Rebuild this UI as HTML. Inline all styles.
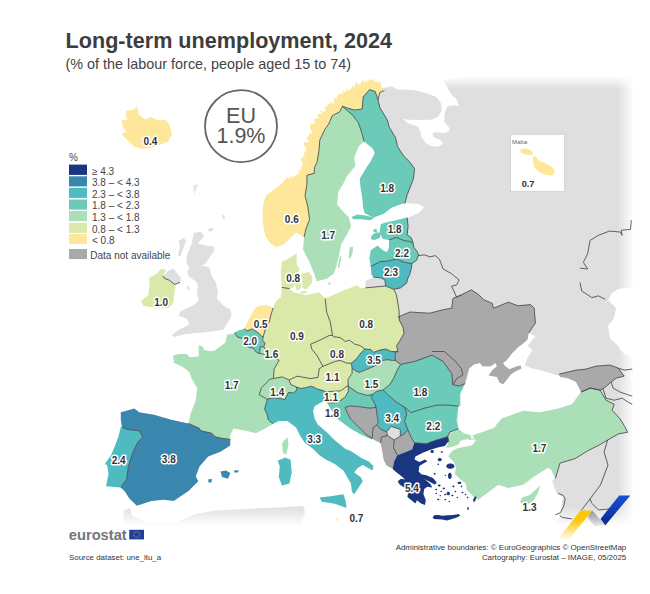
<!DOCTYPE html>
<html><head><meta charset="utf-8"><style>
html,body{margin:0;padding:0;background:#fff;width:650px;height:594px;overflow:hidden;position:relative;font-family:"Liberation Sans",sans-serif}
.t{position:absolute;white-space:nowrap}
</style></head><body>
<svg width="650" height="594" viewBox="0 0 650 594" style="position:absolute;left:0;top:0">
<defs><linearGradient id="afr" gradientUnits="userSpaceOnUse" x1="0" y1="506" x2="0" y2="526"><stop offset="0" stop-color="#dedede"/><stop offset="1" stop-color="#fff"/></linearGradient><linearGradient id="fr" x1="0" y1="0" x2="1" y2="0"><stop offset="0" stop-color="#fff" stop-opacity="0"/><stop offset="1" stop-color="#fff"/></linearGradient><linearGradient id="ft" x1="0" y1="0" x2="0" y2="1"><stop offset="0" stop-color="#fff"/><stop offset="1" stop-color="#fff" stop-opacity="0"/></linearGradient><linearGradient id="fb" x1="0" y1="0" x2="0" y2="1"><stop offset="0" stop-color="#fff" stop-opacity="0"/><stop offset="1" stop-color="#fff"/></linearGradient></defs>
<path d="M375.0,66.0 L640.0,66.0 L640.0,545.0 L550.0,545.0 L555.0,524.6 L560.0,515.4 L563.0,497.0 L557.0,494.0 L552.0,481.0 L555.0,478.0 L551.0,469.0 L548.0,468.0 L535.0,476.0 L523.0,485.0 L508.0,488.0 L498.0,485.0 L486.0,494.0 L477.0,489.0 L468.0,485.0 L464.0,478.0 L456.0,469.0 L454.0,460.0 L458.0,448.0 L455.0,443.0 L447.0,440.0 L398.0,440.0 L392.0,365.0 L392.0,290.0 L395.0,225.0 L375.0,222.0Z" fill="#dfdfdf"/>
<path d="M193.7,232.9 L201.1,231.8 L204.2,236.1 L197.9,243.4 L205.3,245.5 L213.7,246.6 L214.7,249.7 L210.5,256.1 L206.3,262.4 L202.1,265.5 L209.5,267.6 L211.6,276.1 L215.8,282.4 L217.9,290.8 L216.8,298.2 L223.2,305.5 L230.5,309.7 L231.6,316.1 L226.3,324.5 L223.2,329.7 L210.5,331.8 L197.9,332.9 L185.3,333.9 L174.7,337.1 L171.6,335.0 L178.9,329.7 L189.5,324.5 L186.3,318.2 L178.9,316.1 L180.0,311.8 L188.4,307.6 L194.7,304.5 L198.9,300.3 L196.8,293.9 L197.9,286.6 L196.8,282.4 L191.6,278.2 L188.4,276.1 L187.4,271.8 L189.5,267.6 L186.3,262.4 L187.4,253.9 L191.6,244.5Z" fill="#dfdfdf"/>
<path d="M178.5,241.3 L183.2,238.2 L186.3,240.3 L183.2,248.7 L180.0,257.1 L177.9,255.0 L180.0,246.6Z" fill="#dfdfdf"/>
<path d="M222.1,215.4 L224.2,215.0 L225.3,218.8 L223.2,219.6Z" fill="#dfdfdf"/>
<path d="M193.0,185.3 L198.3,184.2 L196.5,188.3 L194.7,194.8 L193.3,189.5Z" fill="#e6e6e6"/>
<path d="M208.0,228.9 L212.6,228.1 L213.1,231.0 L208.8,231.4Z" fill="#dfdfdf"/>
<path d="M186.9,286.6 L189.1,285.7 L189.9,289.1 L187.8,289.9Z" fill="#dfdfdf"/>
<path d="M163.2,276.1 L168.4,270.8 L173.7,268.7 L176.8,272.9 L181.1,278.2 L180.0,282.4 L174.7,284.5 L169.5,280.3 L164.2,278.2Z" fill="#dfdfdf"/>
<path d="M123.7,510.5 L130,508 L132,516 L150,523 L175,523 L195,514 L216,510.5 L238,509.4 L259,508.3 L280,507.5 L295,506.5 L303,506 L305,512 L300,530 L123,530Z" fill="url(#afr)"/>
<path d="M370.0,66.0 L375.0,89.0 L384.4,87.8 L391.9,85.9 L397.4,89.6 L400.0,89.5 L413.5,89.9 L426.9,93.2 L436.4,96.9 L441.1,103.7 L441.8,110.4 L437.7,117.1 L431.0,119.8 L420.2,120.1 L408.1,119.8 L402.7,118.8 L408.1,123.2 L417.5,126.6 L420.2,130.6 L421.5,137.3 L425.6,142.7 L429.6,145.4 L437.7,146.8 L443.1,144.1 L440.4,140.0 L433.7,137.3 L432.3,133.3 L437.7,132.0 L444.4,133.3 L449.8,130.6 L448.5,126.6 L444.4,122.5 L444.4,114.4 L447.1,106.4 L453.9,105.3 L459.3,106.4 L456.6,99.6 L451.2,94.2 L447.1,86.8 L443.1,80.8 L444.4,79.4 L453.9,78.1 L480.0,75.4 L480.0,66.0Z" fill="#fff"/>
<path d="M375.0,203.0 L404.0,203.0 L418.0,204.0 L424.0,207.0 L420.0,212.0 L410.0,217.0 L400.0,220.0 L375.0,224.0Z" fill="#fff"/>
<path d="M465.0,383.0 L469.0,368.5 L473.8,364.6 L480.0,363.1 L482.3,366.2 L490.8,366.2 L495.4,363.1 L503.1,363.1 L506.2,360.8 L512.3,353.1 L518.5,346.9 L524.6,342.3 L527.7,339.2 L528.5,333.1 L535.4,336.2 L527.7,345.4 L532.3,350.0 L527.7,357.7 L524.6,365.4 L532.3,368.5 L540.0,370.0 L560.0,376.2 L576.0,382.0 L581.0,392.0 L572.0,404.0 L560.0,408.0 L540.0,414.0 L523.0,413.0 L501.0,421.0 L493.0,430.0 L472.0,438.0 L458.0,432.0 L458.0,406.0 L460.0,393.0Z" fill="#fff"/>
<path d="M448.1,451.6 L454.8,447.6 L458.8,441.5 L466.9,439.5 L475.7,440.2 L472.3,444.9 L465.6,446.6 L457.5,448.3 L452.1,450.7Z" fill="#fff"/>
<path d="M612.0,293.0 L618.0,289.0 L640.0,286.0 L640.0,360.0 L624.0,354.0 L618.0,346.0 L610.0,338.0 L608.0,326.0 L614.0,318.0 L616.0,308.0 L608.0,300.0Z" fill="#fff"/>
<path d="M455.2,86.2 L459.3,80.8 L467.3,79.4 L468.0,88.9 L463.3,93.6 L456.6,90.2Z" fill="#dfdfdf"/>
<rect x="370" y="60" width="280" height="16" fill="#fff"/><rect x="370" y="76" width="280" height="13" fill="url(#ft)"/>
<rect x="618" y="60" width="16" height="490" fill="url(#fr)"/><rect x="634" y="60" width="16" height="490" fill="#fff"/>
<rect x="540" y="507" width="110" height="19" fill="url(#fb)"/><rect x="90" y="526" width="560" height="20" fill="#fff"/>
<path d="M384.4,90.6 L381.7,87.8 L380.7,82.2 L374.7,82.0 L373.3,79.3 L371.2,80.0 L369.5,79.0 L366.9,82.4 L365.9,77.6 L365.6,82.5 L362.7,80.4 L361.2,81.9 L360.5,84.4 L358.4,83.9 L355.4,81.6 L355.1,84.7 L354.6,87.4 L352.0,85.3 L352.3,88.8 L349.6,88.2 L349.3,91.0 L345.2,88.5 L346.8,92.8 L342.0,90.5 L343.1,94.1 L340.2,93.7 L338.3,94.4 L337.3,96.0 L337.2,98.8 L334.5,98.1 L334.0,100.3 L334.5,103.9 L330.5,101.5 L330.5,104.5 L327.9,103.9 L327.5,105.8 L325.9,106.6 L324.6,107.8 L325.7,111.4 L323.4,111.6 L319.7,110.3 L322.4,114.6 L318.8,114.1 L316.9,114.9 L319.2,118.8 L315.6,118.3 L314.3,119.6 L314.2,121.7 L315.7,123.2 L311.1,123.5 L310.2,125.0 L309.9,126.7 L310.2,128.7 L311.5,130.9 L312.4,133.0 L308.8,133.6 L308.8,135.4 L307.6,136.9 L306.7,138.4 L309.4,141.3 L307.0,142.1 L303.9,142.6 L303.5,144.3 L304.8,146.6 L306.3,148.9 L305.9,149.5 L305.7,151.2 L303.7,152.6 L305.1,154.5 L303.0,155.9 L302.7,157.6 L300.4,158.9 L301.6,160.8 L302.4,163.2 L303.1,165.4 L300.9,166.8 L301.6,169.8 L297.7,169.7 L300.1,172.8 L297.7,173.4 L297.0,174.9 L294.1,175.8 L292.9,177.9 L290.7,176.3 L289.7,178.8 L287.4,177.0 L280.9,184.4 L273.5,190.0 L266.1,195.6 L263.3,203.0 L262.4,214.1 L263.3,225.2 L265.2,236.3 L270.7,243.7 L276.3,247.4 L284.6,243.7 L292.0,236.3 L296.7,232.6 L302.2,236.3 L304.1,237.2 L305.9,228.9 L309.6,219.6 L307.8,206.7 L305.0,195.6 L306.9,184.4 L306.9,175.2 L314.3,173.3 L314.3,167.8 L317.0,162.2 L318.9,151.1 L319.8,140.0 L324.9,129.2 L328.6,124.2 L332.3,115.6 L339.7,111.9 L342.5,106.3 L347.4,108.1 L354.8,110.0 L362.2,109.0 L363.1,97.0 L369.6,89.6 L375.2,91.5 L378.0,99.8 L379.8,92.4 L384.4,90.6Z" fill="#fee79b"/>
<path d="M304.1,237.2 L305.9,228.9 L309.6,219.6 L307.8,206.7 L305.0,195.6 L306.9,184.4 L306.9,175.2 L314.3,173.3 L314.3,167.8 L317.0,162.2 L318.9,151.1 L319.8,140.0 L324.9,129.2 L328.6,124.2 L332.3,115.6 L339.7,111.9 L342.5,106.3 L353.0,115.6 L358.5,123.0 L362.2,134.1 L364.1,141.5 L358.6,146.5 L354.3,157.2 L355.4,165.8 L346.8,176.6 L342.5,185.2 L338.2,191.7 L337.1,204.6 L342.5,211.1 L348.9,217.5 L351.1,226.2 L346.8,234.8 L341.2,244.3 L338.8,256.6 L336.3,266.5 L333.8,273.8 L326.5,278.8 L316.6,281.2 L314.2,273.8 L309.2,261.5 L303.0,249.2 L304.1,237.2Z" fill="#aadfb7"/>
<path d="M349.8,247.3 L353.0,246.8 L352.6,252.9 L350.1,259.1 L348.6,257.1Z" fill="#aadfb7"/>
<path d="M340.0,256.1 L341.5,256.8 L339.2,268.2 L337.7,267.4Z" fill="#aadfb7"/>
<path d="M342.5,106.3 L353.0,115.6 L358.5,123.0 L362.2,134.1 L364.1,141.5 L372.6,148.6 L374.8,152.9 L370.5,161.5 L366.2,168.0 L359.7,178.8 L360.8,189.2 L362.3,198.5 L363.1,207.7 L364.6,213.1 L373.1,217.7 L383.8,213.8 L391.5,207.7 L402.3,203.8 L404.9,203.5 L407.1,195.0 L413.5,178.6 L414.5,168.5 L409.2,161.5 L403.9,156.3 L397.4,146.4 L395.6,137.8 L389.0,126.7 L387.4,120.0 L380.0,108.0 L378.0,99.8 L375.2,91.5 L369.6,89.6 L363.1,97.0 L362.2,109.0 L354.8,110.0 L347.4,108.1 L342.5,106.3Z" fill="#6bcab8"/>
<path d="M407.1,217.5 L408.1,226.2 L407.1,234.8 L411.4,238.0 L413.2,243.5 L409.8,241.4 L404.4,240.8 L396.4,237.4 L392.3,238.8 L389.0,240.1 L383.0,239.0 L379.5,233.0 L380.8,224.0 L389.8,221.8 L407.1,217.5Z" fill="#6bcab8"/>
<path d="M371.5,235.4 L376.2,232.3 L380.8,233.1 L380.0,237.7 L374.6,240.0 L370.8,239.2Z" fill="#6bcab8"/>
<path d="M373.1,230.0 L376.2,228.5 L377.4,231.5 L373.8,232.6Z" fill="#6bcab8"/>
<path d="M351.5,216.9 L357.7,214.6 L365.4,215.4 L374.6,217.7 L370.0,220.3 L360.8,219.2 L353.1,219.2Z" fill="#6bcab8"/>
<path d="M413.2,243.5 L413.9,247.5 L417.2,251.5 L418.6,254.9 L416.6,260.3 L411.9,263.7 L404.4,262.3 L396.4,259.0 L388.3,261.0 L380.2,261.6 L370.8,266.4 L369.4,258.3 L370.8,250.2 L377.5,245.5 L382.9,250.2 L386.9,252.2 L389.0,247.5 L389.0,240.1 L392.3,238.8 L396.4,237.4 L404.4,240.8 L409.8,241.4 L413.2,243.5Z" fill="#6bcab8"/>
<path d="M370.8,266.4 L380.2,261.6 L388.3,261.0 L396.4,259.0 L404.4,262.3 L411.9,263.7 L411.2,269.1 L409.8,274.4 L407.8,278.5 L406.5,283.2 L400.4,287.9 L393.7,289.3 L385.6,286.0 L384.9,279.8 L380.2,277.8 L373.5,277.1 L371.4,274.4 L370.8,266.4Z" fill="#4fbbc1"/>
<path d="M365.4,281.2 L373.5,277.1 L380.2,277.8 L384.9,279.8 L385.6,286.0 L365.4,287.9Z" fill="#dfdfdf"/>
<path d="M325.2,298.5 L336.3,293.5 L351.1,287.4 L357.2,284.9 L360.0,288.0 L365.4,287.9 L385.6,286.0 L393.7,289.3 L396.4,294.6 L399.0,310.0 L399.3,320.0 L403.3,328.1 L404.0,333.5 L399.3,341.5 L396.6,345.6 L397.9,351.6 L391.2,351.6 L385.8,349.0 L379.1,350.3 L373.7,352.3 L371.0,349.6 L364.9,349.0 L360.2,345.6 L354.8,344.2 L349.4,340.2 L345.4,341.5 L340.0,337.5 L334.0,336.8 L332.5,335.5 L330.3,322.0 L326.6,312.2 L325.2,298.5Z" fill="#dae8aa"/>
<path d="M332.5,335.5 L329.1,335.5 L319.2,340.5 L310.6,344.2 L311.8,349.1 L316.8,355.2 L322.9,366.3 L335.2,361.4 L340.0,360.4 L346.7,363.1 L351.4,363.1 L356.2,359.1 L361.5,352.3 L364.9,349.0 L360.2,345.6 L354.8,344.2 L349.4,340.2 L345.4,341.5 L340.0,337.5 L334.0,336.8 L332.5,335.5Z" fill="#dae8aa"/>
<path d="M351.4,363.1 L356.2,359.1 L361.5,352.3 L364.9,349.0 L371.0,349.6 L373.7,352.3 L379.1,350.3 L385.8,349.0 L391.2,351.6 L397.9,351.6 L395.2,352.3 L395.2,357.7 L395.2,360.4 L392.5,360.4 L387.1,359.7 L383.1,360.4 L377.7,364.4 L372.3,367.1 L365.6,369.8 L358.9,372.5 L352.1,368.5 L351.4,363.1Z" fill="#4fbbc1"/>
<path d="M352.1,368.5 L358.9,372.5 L365.6,369.8 L372.3,367.1 L377.7,364.4 L383.1,360.4 L387.1,359.7 L392.5,360.4 L395.2,360.4 L400.6,364.4 L396.6,371.2 L393.9,377.9 L389.8,384.6 L383.1,390.0 L376.4,391.4 L372.3,394.7 L366.9,395.4 L357.5,392.7 L348.1,386.0 L348.1,379.3 L352.1,373.2 L352.1,368.5Z" fill="#aadfb7"/>
<path d="M289.2,380.0 L297.1,376.2 L310.6,378.6 L318.0,377.4 L319.2,368.8 L322.9,366.3 L335.2,361.4 L340.0,360.4 L346.7,363.1 L351.4,363.1 L352.1,368.5 L352.1,373.2 L348.1,379.3 L348.1,386.0 L346.9,386.2 L340.8,390.8 L330.0,391.5 L325.4,391.5 L323.8,390.8 L317.7,389.2 L311.5,386.2 L305.4,387.7 L300.8,388.5 L296.2,386.9 L290.8,384.6 L289.2,380.0Z" fill="#dae8aa"/>
<path d="M325.4,391.5 L330.0,391.5 L340.8,390.8 L346.9,386.2 L348.1,386.0 L326.9,402.3 L331.5,403.1 L339.2,401.5 L345.4,396.9 L348.5,390.8 L348.1,386.0 L326.9,402.3 L325.4,398.5 L325.4,391.5Z" fill="#dae8aa"/>
<path d="M273.5,378.5 L270.0,379.2 L261.5,387.7 L259.2,394.6 L266.9,399.2 L273.5,378.5 L282.3,376.9 L289.2,380.0 L290.8,384.6 L296.2,386.9 L296.9,390.0 L293.1,393.1 L288.5,392.3 L284.6,400.0 L280.8,398.5 L273.1,397.7 L266.9,399.2Z" fill="#aadfb7"/>
<path d="M266.9,399.2 L266.9,400.8 L264.6,409.2 L266.9,413.8 L268.5,420.0 L273.1,423.8 L278.8,420.9 L287.4,420.9 L296.0,427.4 L300.3,436.0 L304.6,442.5 L313.2,448.9 L319.7,455.4 L326.2,459.7 L334.8,464.0 L343.4,470.5 L350.9,483.4 L352.0,492.0 L354.2,494.2 L358.5,487.7 L362.8,481.2 L360.6,476.9 L354.2,472.6 L357.4,468.3 L362.8,465.1 L372.5,470.5 L373.5,466.2 L369.2,461.8 L360.6,457.5 L350.9,451.1 L345.5,448.9 L334.8,440.3 L326.2,431.7 L317.7,424.6 L314.6,418.5 L313.1,410.8 L314.6,406.2 L325.4,400.0 L326.9,402.3 L325.4,398.5 L325.4,391.5 L323.8,390.8 L317.7,389.2 L311.5,386.2 L305.4,387.7 L300.8,388.5 L296.2,386.9 L296.9,390.0 L293.1,393.1 L288.5,392.3 L284.6,400.0 L280.8,398.5 L273.1,397.7 L266.9,399.2Z" fill="#4fbbc1"/>
<path d="M319.7,497.4 L330.5,496.3 L343.4,494.2 L345.5,500.6 L346.6,507.9 L334.8,503.8 L321.8,501.7Z" fill="#4fbbc1"/>
<path d="M277.7,460.8 L285.2,457.5 L290.6,459.7 L291.7,472.6 L289.5,483.4 L282.0,485.5 L278.8,476.9 L279.8,466.2Z" fill="#4fbbc1"/>
<path d="M283.1,441.4 L287.4,437.1 L288.5,444.6 L286.3,454.3 L283.1,453.2 L282.0,444.6Z" fill="#aadfb7"/>
<path d="M234.9,332.6 L235.5,334.5 L237.4,336.9 L241.1,338.2 L246.0,341.8 L247.8,346.8 L252.8,348.0 L256.5,352.3 L259.5,353.5 L265.1,354.2 L270.6,356.6 L279.2,360.3 L274.0,369.2 L273.5,378.5 L270.0,379.2 L261.5,387.7 L259.2,394.6 L266.9,399.2 L266.9,400.8 L264.6,409.2 L266.9,413.8 L268.5,420.0 L273.1,423.8 L265.7,428.3 L255.8,433.2 L246.0,430.8 L236.0,429.0 L233.7,428.3 L230.0,435.7 L230.3,439.4 L221.4,438.2 L215.5,436.9 L211.5,433.2 L200.8,430.8 L199.2,428.3 L188.5,423.4 L190.6,413.5 L195.5,401.2 L197.3,388.3 L191.9,378.9 L189.2,372.1 L182.5,366.8 L173.8,362.7 L173.1,355.3 L179.8,354.0 L186.5,354.0 L189.9,357.3 L198.7,356.6 L198.7,345.2 L202.7,346.5 L204.1,349.9 L210.8,351.3 L214.8,350.6 L217.5,348.6 L225.6,342.5 L227.0,334.4 L233.7,333.8 L234.9,332.6Z" fill="#aadfb7"/>
<path d="M234.9,332.6 L238.6,330.2 L242.3,329.5 L244.2,328.8 L247.2,330.8 L252.2,328.9 L258.9,333.2 L260.8,335.7 L263.2,336.9 L262.6,340.6 L265.1,343.1 L263.8,346.8 L260.2,346.8 L259.5,353.5 L256.5,352.3 L252.8,348.0 L247.8,346.8 L246.0,341.8 L241.1,338.2 L237.4,336.9 L235.5,334.5 L234.9,332.6Z" fill="#6bcab8"/>
<path d="M260.2,346.8 L263.8,346.8 L265.7,349.8 L265.1,354.2 L259.5,353.5Z" fill="#aadfb7"/>
<path d="M244.2,328.8 L248.5,319.7 L252.8,312.3 L255.8,307.4 L259.5,305.5 L266.9,304.9 L273.1,308.0 L270.6,316.0 L269.4,322.2 L266.9,324.6 L264.5,332.0 L263.2,336.9 L260.8,335.7 L258.9,333.2 L252.2,328.9 L247.2,330.8 L244.2,328.8Z" fill="#fee79b"/>
<path d="M281.7,287.4 L289.5,288.6 L293.7,292.4 L299.1,293.5 L305.5,295.1 L313.1,293.5 L319.5,292.4 L325.2,298.5 L326.6,312.2 L330.3,322.0 L332.5,335.5 L329.1,335.5 L319.2,340.5 L310.6,344.2 L311.8,349.1 L316.8,355.2 L322.9,366.3 L319.2,368.8 L318.0,377.4 L310.6,378.6 L297.1,376.2 L289.2,380.0 L282.3,376.9 L273.5,378.5 L274.0,369.2 L279.2,360.3 L270.6,356.6 L265.1,354.2 L265.7,349.8 L263.8,346.8 L265.1,343.1 L262.6,340.6 L263.2,336.9 L264.5,332.0 L266.9,324.6 L269.4,322.2 L270.6,316.0 L273.1,308.0 L276.0,301.0 L281.0,297.0Z" fill="#dae8aa"/>
<path d="M281.8,287.0 L281.3,280.5 L280.8,271.9 L281.8,261.7 L287.2,259.5 L296.9,253.1 L296.4,263.8 L299.6,269.2 L297.5,273.0 L295.8,277.3 L296.9,282.2 L293.7,287.0 L289.4,288.6 L286.2,288.1Z" fill="#dae8aa"/>
<path d="M295.3,283.2 L299.6,281.6 L301.8,285.9 L299.1,290.2 L295.8,289.2Z" fill="#dae8aa"/>
<path d="M301.2,274.1 L308.8,271.9 L312.5,277.3 L311.5,283.8 L306.6,289.2 L302.3,288.1 L302.3,279.5Z" fill="#dae8aa"/>
<path d="M300.2,291.3 L305.5,290.8 L307.2,292.9 L301.2,293.5Z" fill="#dae8aa"/>
<path d="M328.2,282.5 L330.3,282.2 L330.5,284.6 L328.7,285.1Z" fill="#aadfb7"/>
<path d="M120.8,419.7 L120.8,412.3 L134.3,408.6 L139.2,412.3 L154.0,414.8 L171.2,419.7 L188.5,423.4 L199.2,428.3 L200.8,430.8 L211.5,433.2 L215.5,436.9 L221.4,438.2 L230.3,439.4 L230.3,445.5 L220.5,451.7 L208.2,456.6 L199.5,466.5 L195.8,476.3 L198.3,481.2 L188.5,491.1 L173.7,500.9 L163.8,499.7 L151.5,500.9 L136.8,505.8 L129.4,498.5 L124.5,491.1 L120.8,487.4 L126.9,478.8 L128.2,466.5 L133.1,451.7 L138.0,441.8 L142.9,436.9 L139.2,430.8 L126.9,429.5 L122.0,427.1Z" fill="#3986ae"/>
<path d="M220.5,471.4 L226.0,470.5 L230.3,473.0 L228.0,478.8 L222.0,477.0Z" fill="#3986ae"/>
<path d="M234.0,470.2 L238.9,470.5 L238.0,472.6 L234.5,472.6Z" fill="#3986ae"/>
<path d="M208.2,479.5 L211.8,478.8 L211.5,482.5 L208.5,482.5Z" fill="#3986ae"/>
<path d="M122.0,427.1 L126.9,429.5 L139.2,430.8 L142.9,436.9 L138.0,441.8 L133.1,451.7 L128.2,466.5 L126.9,478.8 L120.8,487.4 L106.0,486.2 L108.5,473.8 L107.2,465.2 L104.8,464.0 L110.9,455.4 L114.6,446.8 L118.3,436.9 L120.8,427.1Z" fill="#4fbbc1"/>
<path d="M160.6,268.9 L166.0,269.5 L163.2,276.1 L164.2,278.2 L169.5,280.3 L174.7,284.5 L175.6,286.0 L174.2,293.5 L172.9,303.4 L168.0,308.3 L156.9,308.3 L143.4,305.8 L140.9,300.9 L148.3,294.8 L149.5,286.2 L149.5,277.5 L156.9,273.8Z" fill="#dae8aa"/>
<path d="M126.5,110.8 L133.8,109.5 L137.5,106.6 L138.8,114.5 L144.9,119.4 L151.1,116.9 L158.5,120.6 L165.8,119.4 L169.5,125.5 L172.0,134.2 L168.3,141.5 L158.5,145.2 L151.1,147.7 L143.7,148.9 L133.8,146.5 L127.7,140.3 L121.5,134.2 L126.5,131.7 L122.8,126.8 L121.5,120.6 L127.7,119.4 L125.2,114.5Z" fill="#fee79b"/>
<path d="M348.1,386.0 L357.5,392.7 L366.9,395.4 L372.3,394.7 L371.2,397.5 L374.5,402.9 L376.1,407.4 L370.0,408.2 L359.4,406.7 L350.3,405.9 L345.0,407.4 L347.3,412.7 L350.3,418.8 L357.9,426.4 L365.5,433.9 L372.3,438.5 L371.5,439.5 L360.9,434.5 L350.3,428.5 L338.2,419.5 L331.0,410.0 L326.9,402.3 L331.5,403.1 L339.2,401.5 L345.4,396.9 L348.5,390.8 L348.1,386.0Z" fill="#6bcab8"/>
<path d="M372.3,394.7 L376.4,391.4 L383.1,390.0 L387.4,394.3 L396.0,401.8 L404.6,407.2 L406.8,413.7 L404.6,421.2 L407.8,429.8 L404.0,434.0 L400.3,436.2 L400.3,429.4 L391.2,426.4 L386.7,431.7 L380.6,429.4 L376.8,424.8 L378.3,422.6 L376.8,414.2 L376.1,407.4 L374.5,402.9 L371.2,397.5 L372.3,394.7Z" fill="#4fbbc1"/>
<path d="M372.3,438.5 L365.5,433.9 L357.9,426.4 L350.3,418.8 L347.3,412.7 L345.0,407.4 L350.3,405.9 L359.4,406.7 L370.0,408.2 L376.1,407.4 L376.8,414.2 L378.3,422.6 L376.8,424.8 L373.0,427.9 L372.3,438.5Z" fill="#a9a9a9"/>
<path d="M400.6,364.4 L414.8,361.4 L432.0,355.2 L434.5,356.5 L443.1,361.4 L451.7,373.7 L452.9,384.8 L459.1,386.0 L465.2,383.5 L460.3,393.4 L460.3,405.7 L458.5,406.2 L447.7,405.1 L436.9,405.1 L424.0,408.3 L411.1,412.6 L404.6,407.2 L396.0,401.8 L387.4,394.3 L383.1,390.0 L389.8,384.6 L393.9,377.9 L396.6,371.2 L400.6,364.4Z" fill="#6bcab8"/>
<path d="M404.6,407.2 L411.1,412.6 L424.0,408.3 L436.9,405.1 L447.7,405.1 L458.5,406.2 L457.4,413.7 L456.3,420.2 L458.5,428.8 L449.8,432.0 L447.7,436.3 L445.5,437.4 L434.8,440.6 L426.2,443.8 L414.3,442.8 L411.1,437.4 L407.8,429.8 L404.6,421.2 L406.8,413.7 L404.6,407.2Z" fill="#6bcab8"/>
<path d="M394.2,440.0 L400.3,436.2 L404.0,434.0 L407.8,429.8 L411.1,437.4 L414.3,442.8 L412.2,449.2 L404.6,452.5 L397.3,455.2 L393.5,447.6Z" fill="#a9a9a9"/>
<path d="M386.7,431.7 L391.2,426.4 L400.3,429.4 L400.3,436.2 L394.2,440.0 L387.4,435.5Z" fill="#dfdfdf"/>
<path d="M372.3,438.5 L373.0,427.9 L376.8,424.8 L380.6,429.4 L386.7,431.7 L387.4,435.5 L381.4,437.0 L380.6,443.0 L376.0,441.0Z" fill="#a9a9a9"/>
<path d="M380.6,443.0 L381.4,437.0 L387.4,435.5 L394.2,440.0 L393.5,447.6 L397.3,455.2 L394.2,461.2 L392.7,468.8 L386.7,465.8 L383.6,459.7 L382.1,450.6Z" fill="#a9a9a9"/>
<path d="M398.0,317.0 L409.8,312.0 L429.5,313.2 L444.3,309.5 L451.7,308.3 L452.9,298.5 L461.5,294.8 L471.4,289.8 L478.8,294.8 L483.7,299.7 L492.3,303.4 L493.5,308.3 L508.3,302.2 L518.2,305.8 L530.5,304.6 L534.2,308.3 L535.4,323.1 L530.0,331.0 L528.5,333.1 L527.7,339.2 L524.6,342.3 L518.5,346.9 L512.3,353.1 L506.2,360.8 L503.1,363.1 L495.4,363.1 L490.8,366.2 L482.3,366.2 L480.0,363.1 L473.8,364.6 L469.2,368.5 L465.2,383.5 L459.1,386.0 L452.9,384.8 L456.6,378.6 L462.8,374.9 L461.5,368.8 L455.4,361.4 L444.3,351.5 L432.0,351.5 L432.0,355.2 L414.8,361.4 L400.6,364.4 L395.2,360.4 L395.2,352.3 L397.9,351.6 L396.6,345.6 L399.3,341.5 L404.0,333.5 L403.3,328.1 L399.3,320.0Z" fill="#a9a9a9"/>
<path d="M488.5,375.4 L492.3,370.0 L496.9,366.2 L495.4,363.1 L503.1,363.1 L504.6,365.4 L509.2,369.2 L516.9,366.2 L520.8,365.4 L521.5,368.5 L515.4,371.5 L510.8,374.6 L503.1,384.6 L499.2,382.3 L496.9,376.9Z" fill="#a9a9a9"/>
<path d="M432.0,351.5 L444.3,351.5 L455.4,361.4 L461.5,368.8 L462.8,374.9 L456.6,378.6 L452.9,384.8 L451.7,373.7 L443.1,361.4 L434.5,356.5 L432.0,355.2Z" fill="#a9a9a9"/>
<path d="M559.1,374.1 L576.1,370.1 L586.1,369.1 L596.1,366.1 L610.1,365.1 L618.2,368.1 L624.2,376.1 L616.2,378.1 L611.1,382.1 L604.1,388.1 L600.1,390.1 L590.1,388.1 L581.1,392.1 L576.1,382.1 L568.1,378.1 L560.1,377.1Z" fill="#a9a9a9"/>
<path d="M447.7,436.3 L458.4,428.7 L464.2,433.5 L470.7,435.1 L471.2,440.2 L466.9,438.8 L460.2,440.2 L458.8,444.2 L452.1,446.9 L446.1,448.0 L448.7,441.7Z" fill="#aadfb7"/>
<path d="M472.3,435.5 L493.8,428.1 L501.5,418.5 L523.1,410.8 L540.0,412.2 L560.1,408.2 L572.1,404.2 L581.1,392.1 L590.1,388.1 L600.1,390.1 L606.1,400.2 L614.2,404.2 L612.1,410.2 L620.2,419.0 L624.6,426.2 L627.7,432.3 L618.5,433.8 L607.7,440.0 L600.0,444.6 L587.7,450.8 L575.4,458.5 L560.0,463.1 L555.4,478.5 L550.8,469.2 L547.7,467.7 L535.4,475.4 L523.1,484.6 L507.7,487.7 L498.5,484.6 L486.2,493.8 L477.7,499.9 L472.3,495.3 L466.9,490.0 L465.6,483.2 L460.2,479.2 L454.8,473.8 L456.1,467.1 L453.5,461.7 L448.1,456.3 L452.1,450.9 L457.5,448.3 L465.6,446.9 L472.3,445.6 L476.3,440.2Z" fill="#aadfb7"/>
<path d="M520.0,501.8 L522.5,497.2 L529.8,495.1 L540.3,485.5 L537.8,493.2 L533.8,500.0 L528.6,503.7 L521.8,504.0Z" fill="#aadfb7"/>
<path d="M392.7,468.8 L394.2,461.2 L397.3,455.2 L404.6,452.5 L412.2,449.2 L414.3,442.8 L426.2,443.8 L434.8,440.6 L445.5,437.4 L447.7,436.3 L448.8,441.7 L447.3,442.8 L444.9,446.0 L437.7,447.6 L429.8,450.0 L423.4,452.4 L415.4,456.4 L414.6,459.6 L419.4,462.0 L425.0,459.6 L427.4,461.2 L423.4,463.6 L419.4,466.0 L418.6,471.6 L421.8,474.8 L426.6,475.6 L433.0,478.0 L437.0,482.7 L432.2,481.2 L427.4,479.6 L424.2,478.8 L430.6,484.3 L432.2,487.5 L427.4,486.7 L424.2,489.1 L423.4,493.9 L425.8,500.3 L425.0,505.1 L421.0,503.5 L417.0,500.3 L415.4,503.5 L411.4,500.3 L407.4,497.1 L408.2,492.3 L404.2,487.5 L399.4,484.3 L397.8,481.2 L401.0,478.8 L405.0,479.6 L401.8,476.4 L395.4,471.6 L392.2,468.4Z" fill="#1b3681"/>
<path d="M432.5,517.2 L434.8,514.9 L438.5,514.9 L442.2,515.8 L447.7,515.3 L453.2,514.9 L458.8,513.9 L460.2,515.8 L456.9,517.6 L450.5,519.5 L446.8,520.4 L442.2,519.5 L433.9,519.0Z" fill="#1b3681"/>
<path d="M473.1,499.6 L474.9,496.4 L476.5,496.8 L475.4,500.5 L473.7,502.4Z" fill="#1b3681"/>
<path d="M467.1,507.5 L468.5,507.0 L468.8,509.8 L467.3,509.8Z" fill="#1b3681"/>
<path d="M433.8,451.6 L433.5,452.5 L432.7,453.1 L431.7,453.1 L430.8,452.5 L430.5,451.6 L430.8,450.6 L431.7,450.0 L432.7,450.0 L433.5,450.6Z" fill="#1b3681"/>
<path d="M442.9,452.1 L442.7,452.6 L442.1,452.8 L441.4,452.8 L440.9,452.6 L440.7,452.1 L440.9,451.6 L441.4,451.3 L442.1,451.3 L442.7,451.6Z" fill="#1b3681"/>
<path d="M441.8,459.6 L441.4,460.6 L440.4,461.2 L439.1,461.2 L438.1,460.6 L437.7,459.6 L438.1,458.7 L439.1,458.1 L440.4,458.1 L441.4,458.7Z" fill="#1b3681"/>
<path d="M454.4,466.2 L453.7,467.8 L451.6,468.8 L449.1,468.8 L447.0,467.8 L446.3,466.2 L447.0,464.6 L449.1,463.6 L451.6,463.6 L453.7,464.6Z" fill="#1b3681"/>
<path d="M451.8,475.8 L451.4,477.7 L450.4,478.9 L449.3,478.9 L448.3,477.7 L447.9,475.8 L448.3,473.9 L449.3,472.7 L450.4,472.7 L451.4,473.9Z" fill="#1b3681"/>
<path d="M461.5,482.9 L461.1,483.6 L460.1,484.0 L458.8,484.0 L457.8,483.6 L457.4,482.9 L457.8,482.2 L458.8,481.7 L460.1,481.7 L461.1,482.2Z" fill="#1b3681"/>
<path d="M440.6,485.4 L440.3,486.0 L439.7,486.4 L438.8,486.4 L438.1,486.0 L437.9,485.4 L438.1,484.8 L438.8,484.4 L439.7,484.4 L440.3,484.8Z" fill="#1b3681"/>
<path d="M445.0,488.4 L444.8,489.0 L444.2,489.3 L443.4,489.3 L442.8,489.0 L442.6,488.4 L442.8,487.9 L443.4,487.5 L444.2,487.5 L444.8,487.9Z" fill="#1b3681"/>
<path d="M450.0,493.5 L449.7,494.6 L448.8,495.3 L447.8,495.3 L447.0,494.6 L446.7,493.5 L447.0,492.4 L447.8,491.7 L448.8,491.7 L449.7,492.4Z" fill="#1b3681"/>
<path d="M446.4,494.5 L446.2,495.0 L445.6,495.3 L445.0,495.3 L444.4,495.0 L444.2,494.5 L444.4,494.0 L445.0,493.7 L445.6,493.7 L446.2,494.0Z" fill="#1b3681"/>
<path d="M437.2,489.4 L437.0,489.9 L436.5,490.2 L435.9,490.2 L435.4,489.9 L435.3,489.4 L435.4,489.0 L435.9,488.7 L436.5,488.7 L437.0,489.0Z" fill="#1b3681"/>
<path d="M442.1,491.5 L441.9,491.9 L441.5,492.1 L441.0,492.1 L440.6,491.9 L440.4,491.5 L440.6,491.1 L441.0,490.8 L441.5,490.8 L441.9,491.1Z" fill="#1b3681"/>
<path d="M454.5,486.4 L454.3,487.0 L453.7,487.3 L453.0,487.3 L452.5,487.0 L452.3,486.4 L452.5,485.9 L453.0,485.5 L453.7,485.5 L454.3,485.9Z" fill="#1b3681"/>
<path d="M456.2,491.5 L456.1,491.9 L455.7,492.2 L455.2,492.2 L454.7,491.9 L454.6,491.5 L454.7,491.0 L455.2,490.7 L455.7,490.7 L456.1,491.0Z" fill="#1b3681"/>
<path d="M453.5,495.5 L453.3,496.0 L452.7,496.3 L452.0,496.3 L451.5,496.0 L451.3,495.5 L451.5,495.0 L452.0,494.7 L452.7,494.7 L453.3,495.0Z" fill="#1b3681"/>
<path d="M439.3,499.5 L439.1,500.0 L438.6,500.3 L437.9,500.3 L437.3,500.0 L437.1,499.5 L437.3,499.1 L437.9,498.8 L438.6,498.8 L439.1,499.1Z" fill="#1b3681"/>
<path d="M446.3,499.5 L446.1,499.9 L445.6,500.2 L445.0,500.2 L444.5,499.9 L444.3,499.5 L444.5,499.1 L445.0,498.9 L445.6,498.9 L446.1,499.1Z" fill="#1b3681"/>
<path d="M450.2,501.6 L450.0,502.0 L449.6,502.2 L449.1,502.2 L448.7,502.0 L448.5,501.6 L448.7,501.2 L449.1,500.9 L449.6,500.9 L450.0,501.2Z" fill="#1b3681"/>
<path d="M458.2,497.5 L458.1,497.9 L457.7,498.2 L457.2,498.2 L456.8,497.9 L456.6,497.5 L456.8,497.1 L457.2,496.9 L457.7,496.9 L458.1,497.1Z" fill="#1b3681"/>
<path d="M463.4,492.5 L463.2,493.0 L462.8,493.3 L462.2,493.3 L461.7,493.0 L461.5,492.5 L461.7,492.0 L462.2,491.7 L462.8,491.7 L463.2,492.0Z" fill="#1b3681"/>
<path d="M466.3,494.5 L466.2,495.0 L465.8,495.3 L465.3,495.3 L464.8,495.0 L464.7,494.5 L464.8,494.0 L465.3,493.7 L465.8,493.7 L466.2,494.0Z" fill="#1b3681"/>
<path d="M468.3,497.5 L468.2,498.0 L467.8,498.3 L467.3,498.3 L466.9,498.0 L466.7,497.5 L466.9,497.0 L467.3,496.7 L467.8,496.7 L468.2,497.0Z" fill="#1b3681"/>
<path d="M437.0,493.5 L436.9,493.9 L436.5,494.1 L436.0,494.1 L435.6,493.9 L435.4,493.5 L435.6,493.1 L436.0,492.8 L436.5,492.8 L436.9,493.1Z" fill="#1b3681"/>
<path d="M440.9,495.5 L440.8,495.9 L440.5,496.2 L440.0,496.2 L439.7,495.9 L439.6,495.5 L439.7,495.1 L440.0,494.9 L440.5,494.9 L440.8,495.1Z" fill="#1b3681"/>
<path d="M462.3,486.4 L462.1,486.9 L461.7,487.2 L461.2,487.2 L460.8,486.9 L460.6,486.4 L460.8,485.9 L461.2,485.6 L461.7,485.6 L462.1,485.9Z" fill="#1b3681"/>
<path d="M435.7,473.8 L435.5,474.3 L435.0,474.7 L434.4,474.7 L433.9,474.3 L433.7,473.8 L433.9,473.2 L434.4,472.9 L435.0,472.9 L435.5,473.2Z" fill="#1b3681"/>
<path d="M446.0,475.3 L445.9,475.7 L445.5,476.0 L445.1,476.0 L444.8,475.7 L444.6,475.3 L444.8,474.9 L445.1,474.7 L445.5,474.7 L445.9,474.9Z" fill="#1b3681"/>
<path d="M439.1,464.2 L438.9,464.7 L438.5,465.0 L438.0,465.0 L437.6,464.7 L437.4,464.2 L437.6,463.7 L438.0,463.4 L438.5,463.4 L438.9,463.7Z" fill="#1b3681"/>
<path d="M421.1,474.3 L426.1,475.3 L431.2,478.3 L436.7,483.2 L434.7,484.6 L429.1,481.6 L423.1,478.5Z" fill="#1b3681"/>
<circle cx="336.5" cy="519.8" r="1.1" fill="#fee79b"/>
<path d="M378.0,99.8 L379.8,92.4 L384.4,90.6 M304.1,237.2 L305.9,228.9 L309.6,219.6 L307.8,206.7 L305.0,195.6 L306.9,184.4 L306.9,175.2 L314.3,173.3 L314.3,167.8 L317.0,162.2 L318.9,151.1 L319.8,140.0 L324.9,129.2 L328.6,124.2 L332.3,115.6 L339.7,111.9 L342.5,106.3 M342.5,106.3 L347.4,108.1 L354.8,110.0 L362.2,109.0 L363.1,97.0 L369.6,89.6 L375.2,91.5 L378.0,99.8 M342.5,106.3 L353.0,115.6 L358.5,123.0 L362.2,134.1 L364.1,141.5 M404.9,203.5 L407.1,195.0 L413.5,178.6 L414.5,168.5 L409.2,161.5 L403.9,156.3 L397.4,146.4 L395.6,137.8 L389.0,126.7 L387.4,120.0 L380.0,108.0 L378.0,99.8 M407.1,217.5 L408.1,226.2 L407.1,234.8 L411.4,238.0 L413.2,243.5 M413.2,243.5 L409.8,241.4 L404.4,240.8 L396.4,237.4 L392.3,238.8 L389.0,240.1 M413.2,243.5 L413.9,247.5 L417.2,251.5 L418.6,254.9 L416.6,260.3 L411.9,263.7 M411.9,263.7 L404.4,262.3 L396.4,259.0 L388.3,261.0 L380.2,261.6 L370.8,266.4 M411.9,263.7 L411.2,269.1 L409.8,274.4 L407.8,278.5 L406.5,283.2 L400.4,287.9 L393.7,289.3 M393.7,289.3 L385.6,286.0 M385.6,286.0 L384.9,279.8 L380.2,277.8 L373.5,277.1 M365.4,287.9 L385.6,286.0 M325.2,298.5 L326.6,312.2 L330.3,322.0 L332.5,335.5 M393.7,289.3 L396.4,294.6 L399.0,310.0 L399.3,320.0 L403.3,328.1 L404.0,333.5 L399.3,341.5 L396.6,345.6 L397.9,351.6 M397.9,351.6 L391.2,351.6 L385.8,349.0 L379.1,350.3 L373.7,352.3 L371.0,349.6 L364.9,349.0 M364.9,349.0 L360.2,345.6 L354.8,344.2 L349.4,340.2 L345.4,341.5 L340.0,337.5 L334.0,336.8 L332.5,335.5 M332.5,335.5 L329.1,335.5 L319.2,340.5 L310.6,344.2 L311.8,349.1 L316.8,355.2 L322.9,366.3 M322.9,366.3 L335.2,361.4 L340.0,360.4 L346.7,363.1 L351.4,363.1 M351.4,363.1 L356.2,359.1 L361.5,352.3 L364.9,349.0 M351.4,363.1 L352.1,368.5 M352.1,368.5 L358.9,372.5 L365.6,369.8 L372.3,367.1 L377.7,364.4 L383.1,360.4 L387.1,359.7 L392.5,360.4 L395.2,360.4 M395.2,360.4 L395.2,357.7 L395.2,352.3 L397.9,351.6 M395.2,360.4 L400.6,364.4 M400.6,364.4 L396.6,371.2 L393.9,377.9 L389.8,384.6 L383.1,390.0 M383.1,390.0 L376.4,391.4 L372.3,394.7 M372.3,394.7 L366.9,395.4 L357.5,392.7 L348.1,386.0 M348.1,386.0 L348.1,379.3 L352.1,373.2 L352.1,368.5 M234.9,332.6 L235.5,334.5 L237.4,336.9 L241.1,338.2 L246.0,341.8 L247.8,346.8 L252.8,348.0 L256.5,352.3 L259.5,353.5 M259.5,353.5 L265.1,354.2 M265.1,354.2 L270.6,356.6 L279.2,360.3 L274.0,369.2 L273.5,378.5 M273.5,378.5 L270.0,379.2 L261.5,387.7 L259.2,394.6 L266.9,399.2 M273.5,378.5 L282.3,376.9 L289.2,380.0 M289.2,380.0 L290.8,384.6 L296.2,386.9 M296.2,386.9 L296.9,390.0 L293.1,393.1 L288.5,392.3 L284.6,400.0 L280.8,398.5 L273.1,397.7 L266.9,399.2 M289.2,380.0 L297.1,376.2 L310.6,378.6 L318.0,377.4 L319.2,368.8 L322.9,366.3 M296.2,386.9 L300.8,388.5 L305.4,387.7 L311.5,386.2 L317.7,389.2 L323.8,390.8 L325.4,391.5 M325.4,391.5 L330.0,391.5 L340.8,390.8 L346.9,386.2 L348.1,386.0 M325.4,391.5 L325.4,398.5 L326.9,402.3 M326.9,402.3 L331.5,403.1 L339.2,401.5 L345.4,396.9 L348.5,390.8 L348.1,386.0 M266.9,399.2 L266.9,400.8 L264.6,409.2 L266.9,413.8 L268.5,420.0 L273.1,423.8 M230.3,439.4 L221.4,438.2 L215.5,436.9 L211.5,433.2 L200.8,430.8 L199.2,428.3 L188.5,423.4 M244.2,328.8 L247.2,330.8 L252.2,328.9 L258.9,333.2 L260.8,335.7 L263.2,336.9 M263.2,336.9 L262.6,340.6 L265.1,343.1 L263.8,346.8 M263.8,346.8 L260.2,346.8 L259.5,353.5 M263.8,346.8 L265.7,349.8 L265.1,354.2 M273.1,308.0 L270.6,316.0 L269.4,322.2 L266.9,324.6 L264.5,332.0 L263.2,336.9 M281.7,287.4 L289.5,288.6 M122.0,427.1 L126.9,429.5 L139.2,430.8 L142.9,436.9 L138.0,441.8 L133.1,451.7 L128.2,466.5 L126.9,478.8 L120.8,487.4 M372.3,394.7 L371.2,397.5 L374.5,402.9 L376.1,407.4 M376.1,407.4 L370.0,408.2 L359.4,406.7 L350.3,405.9 L345.0,407.4 L347.3,412.7 L350.3,418.8 L357.9,426.4 L365.5,433.9 L372.3,438.5 M376.1,407.4 L376.8,414.2 L378.3,422.6 L376.8,424.8 M376.8,424.8 L373.0,427.9 L372.3,438.5 M383.1,390.0 L387.4,394.3 L396.0,401.8 L404.6,407.2 M404.6,407.2 L406.8,413.7 L404.6,421.2 L407.8,429.8 M407.8,429.8 L404.0,434.0 L400.3,436.2 M400.3,436.2 L400.3,429.4 L391.2,426.4 L386.7,431.7 M386.7,431.7 L380.6,429.4 L376.8,424.8 M400.6,364.4 L414.8,361.4 L432.0,355.2 M432.0,355.2 L434.5,356.5 L443.1,361.4 L451.7,373.7 L452.9,384.8 M452.9,384.8 L459.1,386.0 L465.2,383.5 M458.5,406.2 L447.7,405.1 L436.9,405.1 L424.0,408.3 L411.1,412.6 L404.6,407.2 M458.5,428.8 L449.8,432.0 L447.7,436.3 M447.7,436.3 L445.5,437.4 L434.8,440.6 L426.2,443.8 L414.3,442.8 M414.3,442.8 L411.1,437.4 L407.8,429.8 M417.9,255.6 L424.6,254.9 L430.0,256.9 L435.4,255.6 L439.4,259.1 L443.1,268.9 L451.7,273.8 L459.1,280.0 L456.6,284.9 L451.7,286.2 L456.6,297.2 L461.5,294.8 M163.2,276.1 L164.2,278.2 L169.5,280.3 L174.7,284.5 L180.0,282.4 M394.2,440.0 L400.3,436.2 M387.4,435.5 L394.2,440.0 L393.5,447.6 L397.3,455.2 M380.6,443.0 L381.4,437.0 L387.4,435.5 L386.7,431.7 M398.0,317.0 L409.8,312.0 L429.5,313.2 L444.3,309.5 L451.7,308.3 L452.9,298.5 L461.5,294.8 L471.4,289.8 L478.8,294.8 L483.7,299.7 L492.3,303.4 L493.5,308.3 L508.3,302.2 L518.2,305.8 L530.5,304.6 L534.2,308.3 L535.4,323.1 L530.0,331.0 L528.5,333.1 M432.0,351.5 L444.3,351.5 L455.4,361.4 L461.5,368.8 L462.8,374.9 L456.6,378.6 L452.9,384.8 M559.1,374.1 L576.1,370.1 L586.1,369.1 L596.1,366.1 L610.1,365.1 L618.2,368.1 L624.2,376.1 L616.2,378.1 L611.1,382.1 L604.1,388.1 L600.1,390.1 L590.1,388.1 L581.1,392.1 M581.1,392.1 L590.1,388.1 L600.1,390.1 L606.1,400.2 L614.2,404.2 L612.1,410.2 L620.2,419.0 L624.6,426.2 L627.7,432.3 L618.5,433.8 L607.7,440.0 L600.0,444.6 L587.7,450.8 L575.4,458.5 L560.0,463.1 L555.4,478.5 M447.7,436.3 L448.8,441.7 M600.5,485.0 L581.2,510.6 M590.2,498.8 L591.5,503.0 L598.5,509.9 L606.8,509.2 L610.9,508.5 M558.3,493.3 L563.2,495.4 L565.2,498.8 L563.8,505.8 L560.4,512.7 L555.5,514.8 M559.7,515.5 L562.5,517.5 L572.2,518.9 M607.7,440.0 L604.0,452.0 L608.0,465.0 L600.5,485.0 M580.0,268.1 L587.6,269.0 L583.4,262.3 L587.6,253.8 L590.1,240.4 L598.5,235.3 L609.4,231.1 L620.4,232.0 L622.1,235.3 L621.2,230.3 L630.5,229.4 L631.3,220.2 M580.0,282.4 L581.7,290.9 L591.8,297.6 L598.5,295.9 L605.2,299.3 M618.2,368.1 L624.2,370.1 L632.2,369.1 M611.1,382.1 L613.1,388.1 L620.2,392.1 L626.2,394.2 L632.2,396.2 M603.1,389.1 L606.1,398.2 L614.2,400.2 L622.2,398.2 L628.2,402.2 L632.2,404.2" fill="none" stroke="#484848" stroke-width="0.85" stroke-linejoin="round"/>
<g font-family="Liberation Sans" font-weight="bold" font-size="10" text-anchor="middle" fill="#333" stroke="#fff" stroke-width="3" stroke-linejoin="round" paint-order="stroke"><text x="150.4" y="145.0">0.4</text><text x="291.8" y="222.5">0.6</text><text x="328.2" y="239.2">1.7</text><text x="387.2" y="191.7">1.8</text><text x="394.6" y="233.0">1.8</text><text x="402.0" y="256.7">2.2</text><text x="391.0" y="276.1">2.3</text><text x="293.2" y="282.3">0.8</text><text x="366.1" y="328.3">0.8</text><text x="296.9" y="340.1">0.9</text><text x="161.1" y="306.1">1.0</text><text x="260.6" y="327.8">0.5</text><text x="250.2" y="344.7">2.0</text><text x="271.4" y="358.0">1.6</text><text x="231.7" y="389.0">1.7</text><text x="277.3" y="396.4">1.4</text><text x="168.8" y="463.1">3.8</text><text x="118.6" y="463.8">2.4</text><text x="337.0" y="357.5">0.8</text><text x="373.9" y="363.9">3.5</text><text x="332.5" y="380.9">1.1</text><text x="371.4" y="388.0">1.5</text><text x="331.0" y="401.1">1.1</text><text x="332.0" y="417.1">1.8</text><text x="420.4" y="395.9">1.8</text><text x="392.1" y="422.0">3.4</text><text x="314.1" y="442.9">3.3</text><text x="433.3" y="430.1">2.2</text><text x="411.9" y="491.9">5.4</text><text x="539.4" y="451.8">1.7</text><text x="529.5" y="511.2">1.3</text><text x="356.4" y="521.7">0.7</text></g>
</svg>
<div class="t" style="left:65.6px;top:28.2px;font-size:21.6px;font-weight:bold;color:#3d3d3d">Long-term unemployment, 2024</div>
<div class="t" style="left:65.5px;top:55.5px;font-size:14.4px;color:#444">(% of the labour force, people aged 15 to 74)</div>
<svg width="650" height="594" style="position:absolute;left:0;top:0">
<circle cx="241" cy="126.2" r="36" fill="#fff" stroke="#666" stroke-width="1.8"/>
<text x="241" y="122.7" text-anchor="middle" font-family="Liberation Sans" font-size="21.5" fill="#555">EU</text>
<text x="241" y="143" text-anchor="middle" font-family="Liberation Sans" font-size="21.5" fill="#555">1.9%</text>
<g font-family="Liberation Sans" font-size="10" fill="#444">
<text x="69" y="161">%</text>
<rect x="69" y="164.6" width="18" height="10.3" fill="#1b3681"/><text x="92" y="174.6">≥ 4.3</text>
<rect x="69" y="176.3" width="18" height="10.1" fill="#3986ae"/><text x="92" y="186.2">3.8 – &lt; 4.3</text>
<rect x="69" y="187.8" width="18" height="10.1" fill="#4fbbc1"/><text x="92" y="197.7">2.3 – &lt; 3.8</text>
<rect x="69" y="199.5" width="18" height="10.1" fill="#6bcab8"/><text x="92" y="209.4">1.8 – &lt; 2.3</text>
<rect x="69" y="211" width="18" height="10.1" fill="#aadfb7"/><text x="92" y="220.9">1.3 – &lt; 1.8</text>
<rect x="69" y="222.8" width="18" height="10.1" fill="#dae8aa"/><text x="92" y="232.7">0.8 – &lt; 1.3</text>
<rect x="69" y="233.9" width="18" height="10.1" fill="#fee79b"/><text x="92" y="243.8">&lt; 0.8</text>
<rect x="69" y="249" width="18" height="10.1" fill="#a9a9a9"/><text x="90.3" y="258.9">Data not available</text>
</g>
<rect x="510.5" y="134.3" width="54" height="57.2" fill="none" stroke="#d2d2d2" stroke-width="1.2" opacity="0.7"/><rect x="511" y="134.8" width="53" height="56.2" fill="#fff"/>
<text x="512" y="143.9" font-family="Liberation Sans" font-size="6.2" fill="#666">Malta</text>
<path d="M520,149.5 L524,148.3 L529,149.5 L533,152 L532,155.3 L526,154.8 L521,152.5Z M533,156.5 L536,156.5 L538,160 L545,163 L552,167 L555,171 L553,175.5 L546,175 L539,172 L534,167 L533,161Z" fill="#fee79b"/>
<text x="521.7" y="186.8" font-family="Liberation Sans" font-size="9.2" font-weight="bold" fill="#333">0.7</text>
<text x="68.8" y="539.5" font-family="Liberation Sans" font-size="14.7" font-weight="bold" fill="#72767d">eurostat</text>
<rect x="129.2" y="529.8" width="14.8" height="9.6" fill="#1f3f9c"/>
<circle cx="136.6" cy="534.6" r="2.9" fill="none" stroke="#c9b64a" stroke-width="0.8" stroke-dasharray="0.9 0.6"/>
<text x="69" y="559.7" font-family="Liberation Sans" font-size="7.9" fill="#333">Source dataset: une_ltu_a</text>
<text x="626.2" y="550.2" text-anchor="end" font-family="Liberation Sans" font-size="7.9" fill="#333">Administrative boundaries: © EuroGeographics © OpenStreetMap</text>
<text x="626.2" y="559.7" text-anchor="end" font-family="Liberation Sans" font-size="7.9" fill="#333">Cartography: Eurostat – IMAGE, 05/2025</text>
<defs>
<linearGradient id="ly" x1="0" y1="1" x2="0" y2="0"><stop offset="0" stop-color="#fdc600" stop-opacity="0"/><stop offset="0.7" stop-color="#fdc600"/></linearGradient>
<linearGradient id="lg" x1="0" y1="0" x2="0" y2="1"><stop offset="0" stop-color="#8f9296"/><stop offset="1" stop-color="#e4e6ea"/></linearGradient>
<linearGradient id="lb" x1="0" y1="0" x2="0" y2="1"><stop offset="0" stop-color="#1a50d8"/><stop offset="1" stop-color="#0a2a8c"/></linearGradient>
</defs>
<path d="M556.9,540.4 L580.5,510.6 L592.2,510.6 L568,540.4Z" fill="url(#ly)"/>
<path d="M587.5,517 L592.2,510.6 L605.4,525.2 L594.5,525.9Z" fill="url(#lg)"/>
<path d="M619.2,495.4 L630.3,495.4 L605.4,525.2 L600.5,518.9Z" fill="url(#lb)"/>
</svg>
</body></html>
